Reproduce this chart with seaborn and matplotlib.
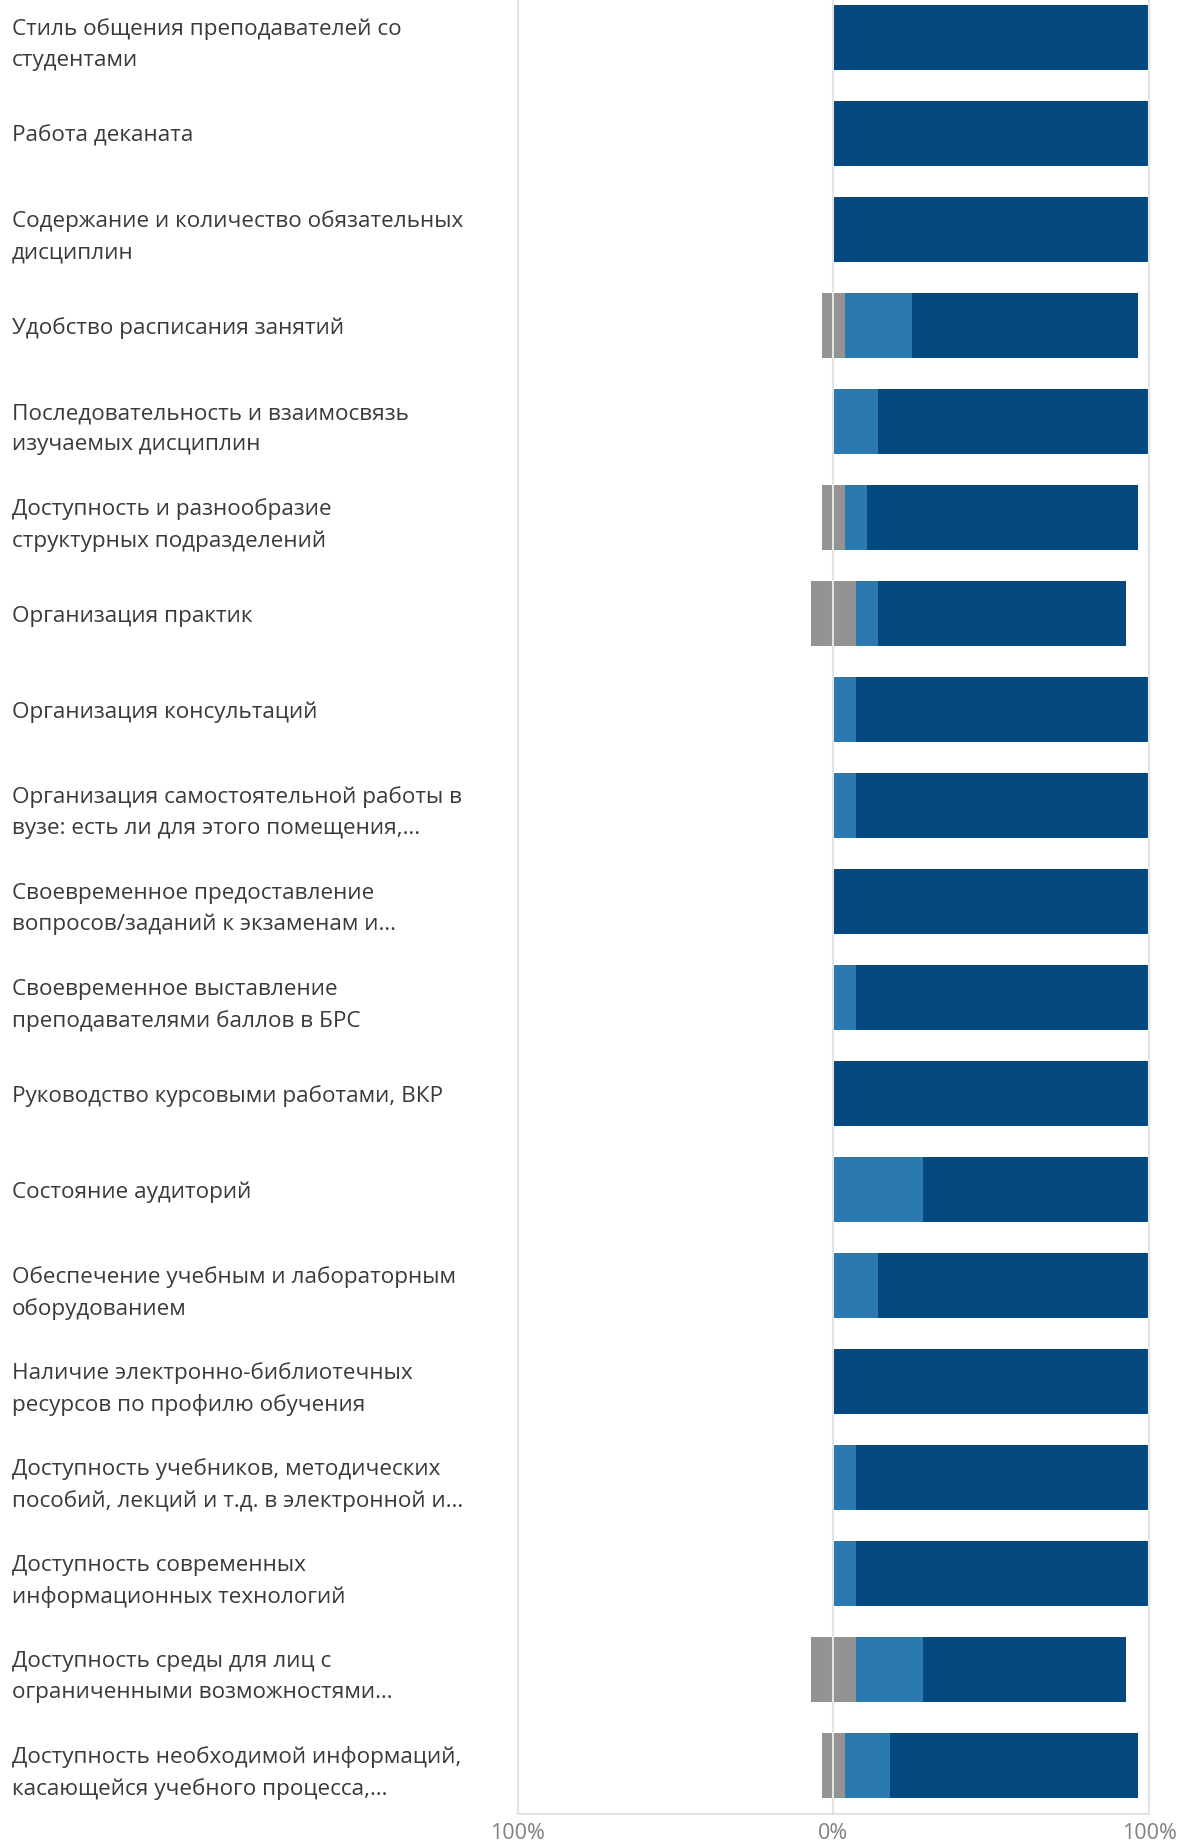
import matplotlib
matplotlib.use('Agg')
import matplotlib.pyplot as plt
import numpy as np
import pandas as pd
import seaborn as sns

# survey items, top to bottom
LABELS = [
    "Стиль общения преподавателей со\nстудентами",
    "Работа деканата",
    "Содержание и количество обязательных\nдисциплин",
    "Удобство расписания занятий",
    "Последовательность и взаимосвязь\nизучаемых дисциплин",
    "Доступность и разнообразие\nструктурных подразделений",
    "Организация практик",
    "Организация консультаций",
    "Организация самостоятельной работы в\nвузе: есть ли для этого помещения,…",
    "Своевременное предоставление\nвопросов/заданий к экзаменам и…",
    "Своевременное выставление\nпреподавателями баллов в БРС",
    "Руководство курсовыми работами, ВКР",
    "Состояние аудиторий",
    "Обеспечение учебным и лабораторным\nоборудованием",
    "Наличие электронно-библиотечных\nресурсов по профилю обучения",
    "Доступность учебников, методических\nпособий, лекций и т.д. в электронной и…",
    "Доступность современных\nинформационных технологий",
    "Доступность среды для лиц с\nограниченными возможностями…",
    "Доступность необходимой информаций,\nкасающейся учебного процесса,…",
]

# shares of answers, %
NEUTRAL = [0, 0, 0, 7.14, 0, 7.14, 14.29, 0, 0, 0, 0, 0, 0, 0, 0, 0, 0, 14.29, 7.14]
PARTLY = [0, 0, 0, 21.43, 14.29, 7.14, 7.14, 7.14, 7.14, 0, 7.14, 0, 28.57, 14.29, 0, 7.14, 7.14, 21.43, 14.29]
SATISFIED = [100, 100, 100, 71.43, 85.71, 85.71, 78.57, 92.86, 92.86, 100, 92.86, 100,
             71.43, 85.71, 100, 92.86, 92.86, 64.29, 78.57]

DARK = '#03497f'
MID = '#2c79b1'
GRAY = '#939393'
GRID = '#e3e3e3'

sns.set_theme(style='white')
plt.rcParams['font.family'] = ['Open Sans', 'DejaVu Sans']

# neutral is centred on zero, positive answers stack to the right of it
half = np.array(NEUTRAL) / 2
partly = np.array(PARTLY)
sat = np.array(SATISFIED)
df = pd.DataFrame({
    'item': LABELS,
    'end_dark': half + partly + sat,
    'end_mid': half + partly,
    'end_gray': half,
    'start_gray': -half,
})

W, H = 1179, 1845
AX_L, AX_R, AX_T, AX_B = 517.5, 1149, -10.5, 1813.5
fig = plt.figure(figsize=(W / 100, H / 100), dpi=100)
ax = fig.add_axes([AX_L / W, (H - AX_B) / H, (AX_R - AX_L) / W, (AX_B - AX_T) / H])

# overlay layers drawn from zero, longest first
for col, color in [('end_dark', DARK), ('end_mid', MID), ('end_gray', GRAY), ('start_gray', GRAY)]:
    sns.barplot(data=df, x=col, y='item', order=LABELS, orient='h', color=color,
                width=0.677, saturation=1, errorbar=None, linewidth=0, ax=ax)

ax.set_xlim(-100, 100)
ax.set_ylim(18.5, -0.5)
ax.set_xticks([-100, 0, 100])
ax.set_xticklabels(['100%', '0%', '100%'])
ax.set_xlabel('')
ax.set_ylabel('')

ax.set_axisbelow(False)
ax.xaxis.grid(True, color=GRID, lw=1.5)
ax.yaxis.grid(False)
for side in ['left', 'bottom', 'right']:
    ax.spines[side].set_color(GRID)
    ax.spines[side].set_linewidth(1.5)
ax.spines['top'].set_visible(False)

ax.tick_params(axis='x', length=0, pad=7, labelsize=15.5, labelcolor='#808080')
ax.tick_params(axis='y', length=0, pad=(AX_L - 12) * 0.72, labelsize=16.2, labelcolor='#3a3a3a')
for lbl in ax.get_yticklabels():
    lbl.set_ha('left')
    lbl.set_linespacing(1.6)

fig.savefig('out.png', dpi=100)
plt.close(fig)
